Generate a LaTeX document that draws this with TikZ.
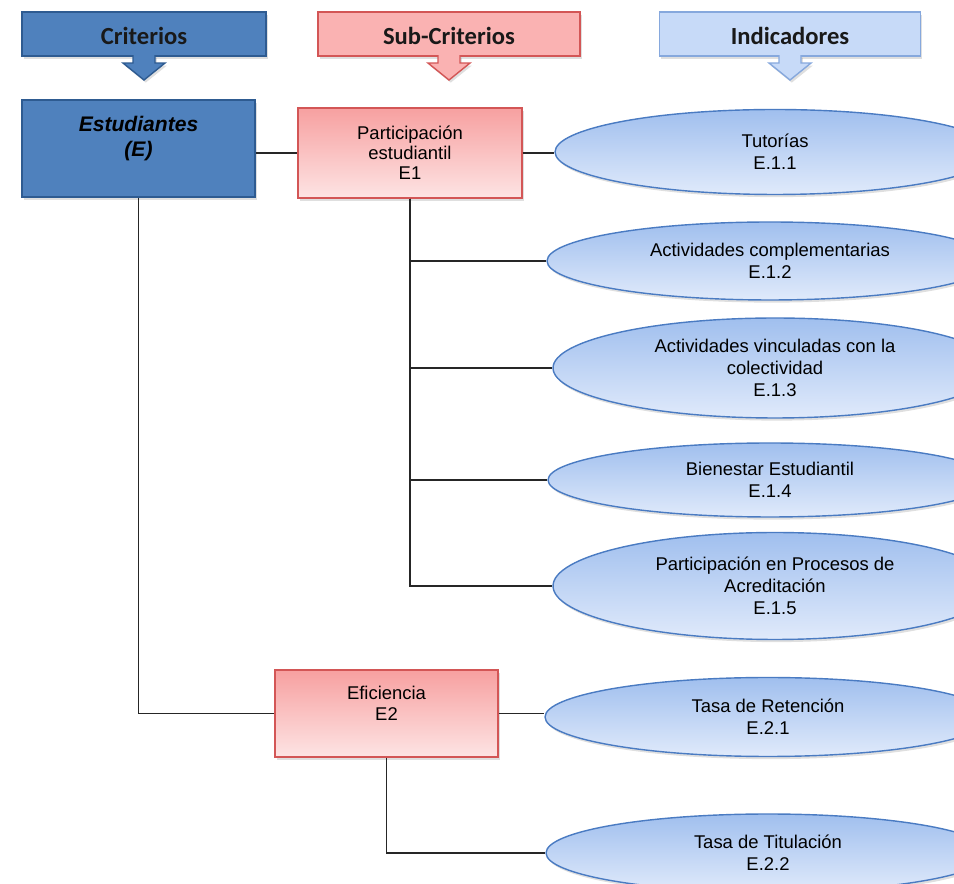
\documentclass[tikz,border=0pt]{standalone}
\usepackage{fontspec}
\setmainfont{Liberation Sans}
\newfontfamily\hdrfont{Carlito}
\usepackage{tikz}
\usetikzlibrary{shapes.geometric,shadows}
\usepackage{xcolor}

\definecolor{critFill}{HTML}{4F81BD}
\definecolor{critLine}{HTML}{2E5B91}
\definecolor{subTop}{HTML}{F7A0A0}
\definecolor{subBot}{HTML}{FDE4E4}
\definecolor{subLine}{HTML}{D35656}
\definecolor{hdrSub}{HTML}{FAB2B2}
\definecolor{indTop}{HTML}{A0BFEE}
\definecolor{indBot}{HTML}{E0EAFB}
\definecolor{indLine}{HTML}{4A7BC2}
\definecolor{hdrInd}{HTML}{C7DAF8}
\definecolor{hdrIndLine}{HTML}{86A8DD}

\begin{document}
\begin{tikzpicture}[
    x=0.02cm, y=-0.02cm,
    shadowed/.style={drop shadow={opacity=0.25, shadow xshift=1pt, shadow yshift=-1.5pt}},
    hdr/.style={draw, line width=0.9pt, shadowed, minimum height=0.88cm, text height=12pt, text depth=0pt, font=\hdrfont\bfseries\fontsize{14}{16}\selectfont, text=black!90},
    crit/.style={draw=critLine, fill=critFill, line width=0.9pt, shadowed, align=center, minimum width=4.66cm, minimum height=1.94cm, font=\bfseries\itshape\fontsize{12}{14}\selectfont},
    sub/.style={draw=subLine, top color=subTop, bottom color=subBot, line width=0.8pt, shadowed, align=center, font=\fontsize{10.5}{11.5}\selectfont},
    ind/.style={ellipse, draw=indLine, top color=indTop, bottom color=indBot, line width=0.8pt, shadowed, align=center, inner sep=0pt, font=\fontsize{10.5}{12.5}\selectfont},
    conn/.style={line width=1.1pt, draw=black!85}
]
\useasboundingbox (0,0) rectangle (954,884);
\clip (0,0) rectangle (954,884);

% Headers
\node[hdr, fill=critFill, draw=critLine, minimum width=4.88cm] (hCrit) at (144,34) {Criterios};
\node[hdr, fill=hdrSub, draw=subLine, minimum width=5.24cm] (hSub) at (449,34) {Sub-Criterios};
\node[hdr, fill=hdrInd, draw=hdrIndLine, minimum width=5.22cm] (hInd) at (790,34) {Indicadores};

\foreach \h/\f/\c in {hCrit/critFill/critLine, hSub/hdrSub/subLine, hInd/hdrInd/hdrIndLine}
    \filldraw[fill=\f, draw=\c, line width=0.8pt, shadowed] ([yshift=1pt]\h.south) ++(-11,0) -- ++(0,8) -- ++(-10,0) -- ++(21,17) -- ++(21,-17) -- ++(-10,0) -- ++(0,-8);

% Criterio and sub-criterios
\node[crit] (est) at (138.5,148.5) {Estudiantes\\(E)\\\mbox{}};
\node[sub, minimum width=4.48cm, minimum height=1.8cm] (P) at (410,153) {Participación\\estudiantil\\E1};
\node[sub, minimum width=4.46cm, minimum height=1.74cm] (E2) at (386.5,713.5) {Eficiencia\\E2\\\mbox{}};

% Indicadores
\node[ind, minimum width=8.8cm, minimum height=1.7cm] (t1) at (775,152) {Tutorías\\E.1.1};
\node[ind, minimum width=8.92cm, minimum height=1.56cm] (t2) at (770,261) {Actividades complementarias\\E.1.2};
\node[ind, minimum width=8.88cm, minimum height=2.0cm] (t3) at (775,368) {Actividades vinculadas con la\\colectividad\\E.1.3};
\node[ind, minimum width=8.88cm, minimum height=1.48cm] (t4) at (770,480) {Bienestar Estudiantil\\E.1.4};
\node[ind, minimum width=8.88cm, minimum height=2.14cm] (t5) at (775,586) {Participación en Procesos de\\Acreditación\\E.1.5};
\node[ind, minimum width=8.92cm, minimum height=1.58cm] (t6) at (768,717) {Tasa de Retención\\E.2.1};
\node[ind, minimum width=8.88cm, minimum height=1.56cm] (t7) at (768,853) {Tasa de Titulación\\E.2.2};

% Connectors
\draw[conn] (est.east |- P.west) -- (P.west);
\draw[conn] (P.east) -- (P.east -| t1.west);
\foreach \t in {t2,t3,t4,t5}
    \draw[conn] (P.south) |- (\t.west);
\draw[conn] (est.south) |- (E2.west);
\draw[conn] (E2.east) -- (E2.east -| t6.west);
\draw[conn] (E2.south) |- (t7.west);

\end{tikzpicture}
\end{document}
